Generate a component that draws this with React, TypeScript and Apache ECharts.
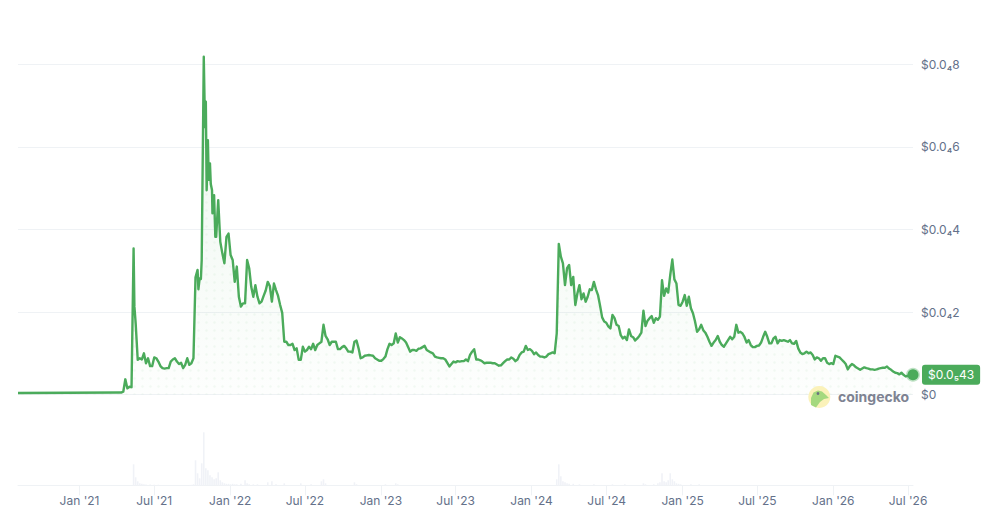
import { useEffect, useRef } from "react";
import * as echarts from "echarts";

const FONT = "Inter, 'Noto Sans', sans-serif";
const GREEN = "#4bab5b";
const GRID_LINE = "#eff2f5";
const LABEL = "#64718a";
const DAY = 86400000;

// x axis
const axisStart = "2020-08-05";
const axisEnd = "2026-07-13";
const tickDates = [
  "2021-01-01", "2021-07-01", "2022-01-01", "2022-07-01", "2023-01-01", "2023-07-01",
  "2024-01-01", "2024-07-01", "2025-01-01", "2025-07-01", "2026-01-01", "2026-07-01",
];
const tickLabels = [
  "Jan '21", "Jul '21", "Jan '22", "Jul '22", "Jan '23", "Jul '23",
  "Jan '24", "Jul '24", "Jan '25", "Jul '25", "Jan '26", "Jul '26",
];

// y axis, price in units of 0.00001
const priceTicks = [0, 2, 4, 6, 8];
const priceTickLabels = ["$0", "$0.0₄2", "$0.0₄4", "$0.0₄6", "$0.0₄8"];
const lastPriceLabel = "$0.0₅43";

// flat stretch before the first listing move
const earlyDates = ["2020-08-05", "2021-04-07"];
const earlyPrices = [0.04, 0.05];

// extra readings around the 2021 spikes, where the price swings inside a sample
const spikeDates = [
  "2021-05-14", "2021-10-16", "2021-10-22", "2021-11-01", "2021-11-05", "2021-11-10",
  "2021-11-15", "2021-11-19", "2021-11-26", "2021-11-27",
];
const spikePrices = [2.13, 2.55, 2.8, 6.48, 4.95, 5.2, 5.1, 4.39, 3.82, 4.23];

// readings taken every 5 days from this date
const firstSample = "2021-04-12";
const prices2021 = [
  0.05, 0.07, 0.37, 0.15, 0.19, 0.18, 3.54, 1.73, 0.84, 0.88, 0.85, 1.0, 0.76, 0.88, 0.69, 0.69,
  0.9, 0.88, 0.8, 0.69, 0.64, 0.63, 0.64, 0.64, 0.8, 0.85, 0.88, 0.8, 0.74, 0.77, 0.64, 0.72,
  0.88, 0.72, 0.76, 0.88, 2.84, 3.02, 2.81, 3.26, 8.18, 7.09, 6.16, 5.6, 4.95, 4.83, 3.82, 4.71,
  3.7, 3.42, 3.18, 3.82, 3.9, 3.38, 3.26, 2.73,
];
const prices2022 = [
  3.1, 2.37, 2.13, 2.21, 2.21, 3.26, 3.06, 2.61, 2.37, 2.65, 2.37, 2.21, 2.25, 2.39, 2.52, 2.73,
  2.63, 2.25, 2.69, 2.53, 2.39, 2.17, 1.98, 1.28, 1.28, 1.2, 1.2, 1.23, 1.08, 1.12, 0.84, 0.84,
  1.16, 1.04, 1.08, 1.16, 1.1, 1.23, 1.08, 1.2, 1.24, 1.28, 1.69, 1.42, 1.34, 1.2, 1.28, 1.28,
  1.28, 1.1, 1.1, 1.15, 1.18, 1.12, 1.04, 1.04, 1.02, 1.28, 1.31, 1.12, 0.88, 0.9, 0.94, 0.95,
];
const prices2023 = [
  0.96, 0.95, 0.94, 0.88, 0.85, 0.82, 0.82, 0.86, 0.92, 1.1, 1.23, 1.2, 1.24, 1.48, 1.26, 1.39,
  1.36, 1.32, 1.26, 1.15, 1.04, 1.08, 1.08, 1.06, 1.11, 1.12, 1.15, 1.18, 1.08, 1.05, 1.02, 1.0,
  0.92, 0.9, 0.89, 0.88, 0.88, 0.85, 0.77, 0.68, 0.74, 0.8, 0.78, 0.81, 0.8, 0.81, 0.81, 0.85,
  0.81, 0.96, 1.04, 1.1, 0.85, 0.85, 0.83, 0.8, 0.76, 0.77, 0.77, 0.77, 0.76, 0.76, 0.73, 0.7,
  0.71, 0.76, 0.81, 0.85, 0.85, 0.9, 0.87, 0.81, 0.85, 0.96,
];
const prices2024 = [
  1.02, 1.04, 1.18, 1.08, 1.1, 1.06, 0.98, 1.02, 0.96, 0.92, 0.92, 0.9, 0.92, 0.98, 1.0, 1.02,
  1.0, 1.48, 3.65, 3.34, 3.18, 2.65, 3.06, 3.14, 2.65, 2.85, 2.17, 2.45, 2.65, 2.31, 2.45, 2.25,
  2.37, 2.55, 2.53, 2.73, 2.55, 2.41, 2.15, 1.87, 1.77, 1.74, 1.65, 1.6, 1.93, 1.85, 1.69, 1.66,
  1.44, 1.36, 1.4, 1.32, 1.58, 1.42, 1.39, 1.31, 1.36, 1.42, 1.5, 2.03, 1.66, 1.79, 1.85, 1.9,
  1.74, 1.85, 1.81, 1.89, 2.77, 2.39, 2.57, 2.47, 2.9, 3.27,
];
const prices2025 = [
  2.79, 2.69, 2.17, 2.15, 2.25, 2.41, 2.15, 2.37, 2.09, 1.97, 1.77, 1.52, 1.58, 1.69, 1.56, 1.5,
  1.4, 1.28, 1.18, 1.26, 1.32, 1.42, 1.28, 1.2, 1.16, 1.24, 1.32, 1.4, 1.34, 1.4, 1.69, 1.5,
  1.52, 1.48, 1.39, 1.26, 1.32, 1.2, 1.15, 1.15, 1.18, 1.19, 1.26, 1.4, 1.52, 1.4, 1.24, 1.24,
  1.36, 1.4, 1.24, 1.32, 1.3, 1.32, 1.3, 1.28, 1.32, 1.24, 1.23, 1.3, 1.12, 1.02, 0.98, 1.0,
  1.04, 1.0, 1.02, 0.96, 0.85, 0.9, 0.88, 0.82,
];
const prices2026 = [
  0.88, 0.88, 0.77, 0.74, 0.76, 0.74, 0.94, 0.92, 0.9, 0.85, 0.8, 0.74, 0.61, 0.69, 0.74, 0.71,
  0.66, 0.63, 0.6, 0.63, 0.66, 0.64, 0.63, 0.61, 0.61, 0.6, 0.61, 0.63, 0.64, 0.65, 0.65, 0.68,
  0.63, 0.6, 0.56, 0.53, 0.52, 0.49, 0.53, 0.48, 0.44, 0.45, 0.48, 0.48,
];
const lastPrice = 0.48;

// traded volume on the same 5 day samples, arbitrary units, only the visible spikes
const volumeSpikes = [
  [6, 21], [7, 8], [8, 4], [9, 2], [10, 1.5], [11, 1], [12, 0.7], [14, 0.7], [16, 0.6], [18, 0.6],
  [33, 0.4], [34, 0.5], [35, 1], [36, 25], [37, 12], [38, 7], [39, 22], [40, 53], [41, 17], [42, 15],
  [43, 10], [44, 8], [45, 6], [46, 7], [47, 13], [48, 5], [49, 3], [50, 2], [51, 1.5], [52, 1.5],
  [53, 1], [54, 1.5], [55, 1], [56, 1], [58, 1.5], [60, 5], [61, 2], [62, 1], [64, 1], [66, 1],
  [71, 3], [73, 4], [75, 1], [79, 2], [87, 2], [92, 1], [97, 4], [98, 6], [99, 2], [113, 3],
  [114, 1], [128, 1], [133, 2], [134, 1], [211, 6], [212, 21], [213, 9], [214, 4], [215, 3], [216, 2],
  [217, 1.5], [219, 1.5], [222, 1], [229, 1], [238, 1], [244, 1], [253, 2], [254, 1], [258, 1], [260, 2],
  [261, 3], [262, 12], [263, 4], [264, 3], [265, 5], [266, 12], [267, 6], [268, 4], [269, 2], [270, 1.5],
  [271, 1], [276, 1], [280, 1],
];

const priceValues = [...prices2021, ...prices2022, ...prices2023, ...prices2024, ...prices2025, ...prices2026];
const sampleTime = (i: number) => Date.parse(firstSample) + i * 5 * DAY;

const priceSeries: [number, number][] = [
  ...earlyDates.map((d, i): [number, number] => [Date.parse(d), earlyPrices[i]]),
  ...spikeDates.map((d, i): [number, number] => [Date.parse(d), spikePrices[i]]),
  ...priceValues.map((v, i): [number, number] => [sampleTime(i), v]),
  [Date.parse(axisEnd), lastPrice],
].sort((a, b) => a[0] - b[0]) as [number, number][];
const volumeSeries = volumeSpikes.map(([i, v]) => [sampleTime(i), v]);

const dotTile = () => {
  const c = document.createElement("canvas");
  c.width = 8;
  c.height = 8;
  const ctx = c.getContext("2d")!;
  ctx.fillStyle = "rgba(75,171,91,0.06)";
  ctx.beginPath();
  ctx.arc(6.5, 2.5, 1.3, 0, Math.PI * 2);
  ctx.fill();
  return c;
};

export default function App() {
  const chartRef = useRef<HTMLDivElement>(null);

  useEffect(() => {
    if (!chartRef.current) return;
    const chart = echarts.init(chartRef.current, null, { renderer: "svg" });
    const tickMap = new Map(tickDates.map((d, i) => [Date.parse(d), tickLabels[i]]));
    const tickTimes = tickDates.map((d) => Date.parse(d));

    chart.setOption({
      animation: false,
      backgroundColor: "#fff",
      textStyle: { fontFamily: FONT },
      grid: [
        { left: 18, width: 895, top: 53.9, height: 340.7 },
        { left: 18, width: 895, top: 425.3, height: 60 },
      ],
      xAxis: [
        {
          type: "value",
          gridIndex: 0,
          min: Date.parse(axisStart),
          max: Date.parse(axisEnd),
          show: false,
        },
        {
          type: "value",
          gridIndex: 1,
          min: Date.parse(axisStart),
          max: Date.parse(axisEnd),
          axisLine: { onZero: false, lineStyle: { color: GRID_LINE, width: 1 } },
          axisTick: { show: true, customValues: tickTimes, length: 10, lineStyle: { color: GRID_LINE } },
          splitLine: { show: false },
          axisLabel: {
            customValues: tickTimes,
            margin: 9,
            fontSize: 12,
            fontFamily: FONT,
            color: LABEL,
            hideOverlap: false,
            formatter: (value: number) => tickMap.get(value) ?? "",
          },
        },
      ],
      yAxis: [
        {
          type: "value",
          gridIndex: 0,
          position: "right",
          min: 0,
          max: 8.25,
          interval: 2,
          axisLine: { show: false },
          axisTick: { show: false },
          splitLine: { showMaxLine: false, lineStyle: { color: GRID_LINE, width: 1 } },
          axisLabel: {
            customValues: priceTicks,
            margin: 8,
            align: "left",
            fontSize: 12,
            fontFamily: FONT,
            color: LABEL,
            formatter: (value: number) => priceTickLabels[priceTicks.indexOf(value)] ?? "",
          },
        },
        {
          type: "value",
          gridIndex: 1,
          min: 0,
          max: 60,
          show: false,
        },
      ],
      series: [
        {
          type: "bar",
          xAxisIndex: 1,
          yAxisIndex: 1,
          data: volumeSeries,
          barWidth: 1.6,
          itemStyle: { color: "#f0f2f7" },
        },
        {
          type: "line",
          xAxisIndex: 0,
          yAxisIndex: 0,
          data: priceSeries,
          showSymbol: false,
          lineStyle: { opacity: 0 },
          areaStyle: {
            color: { image: dotTile(), repeat: "repeat" },
            opacity: 1,
          },
        },
        {
          type: "line",
          xAxisIndex: 0,
          yAxisIndex: 0,
          data: priceSeries,
          showSymbol: false,
          lineStyle: { color: GREEN, width: 2.4, join: "round" },
          areaStyle: {
            color: new echarts.graphic.LinearGradient(0, 0, 0, 1, [
              { offset: 0, color: "rgba(75,171,91,0.15)" },
              { offset: 1, color: "rgba(75,171,91,0.015)" },
            ]),
          },
        },
        {
          type: "scatter",
          xAxisIndex: 0,
          yAxisIndex: 0,
          clip: false,
          z: 5,
          symbolSize: 11,
          data: [[Date.parse(axisEnd), lastPrice]],
          itemStyle: { color: GREEN, borderColor: "rgba(75,171,91,0.35)", borderWidth: 3, opacity: 1 },
          label: {
            show: true,
            position: "right",
            distance: 2,
            formatter: lastPriceLabel,
            color: "#fff",
            fontSize: 12,
            fontFamily: FONT,
            backgroundColor: GREEN,
            borderRadius: 3,
            padding: [4, 6],
          },
        },
      ],
      graphic: [
        { type: "circle", z: 4, shape: { cx: 819.3, cy: 397, r: 11 }, style: { fill: "#fbf2ba" } },
        {
          type: "polygon",
          z: 4,
          shape: {
            points: [
              [811, 405], [811, 398], [813.5, 392.5], [818, 390.5], [822, 391.5], [826, 395],
              [829, 398], [824, 399], [820, 402], [816, 407.5],
            ],
          },
          style: { fill: "#a5d97f" },
        },
        { type: "circle", z: 4, shape: { cx: 818, cy: 393.5, r: 1.4 }, style: { fill: "#6b7080" } },
        {
          type: "text",
          z: 4,
          x: 838,
          y: 396,
          style: {
            text: "coingecko",
            fontFamily: FONT,
            fontWeight: 700,
            fontSize: 14,
            fill: "#7e8392",
            verticalAlign: "middle",
          },
        },
      ],
    });

    return () => chart.dispose();
  }, []);

  return (
    <div
      ref={chartRef}
      style={{ position: "absolute", left: 0, top: 0, width: 997, height: 513 }}
    />
  );
}
